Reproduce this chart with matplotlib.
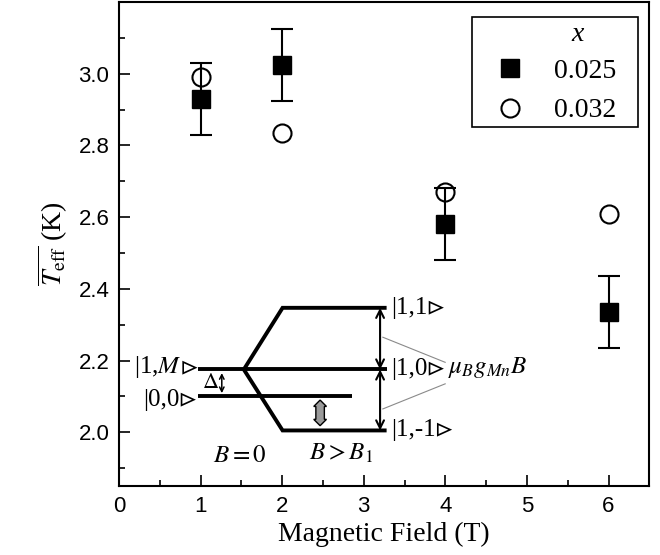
import matplotlib
matplotlib.use('Agg')
import matplotlib.pyplot as plt
from matplotlib.lines import Line2D
from matplotlib.patches import Rectangle, FancyBboxPatch
from matplotlib.transforms import Affine2D
from matplotlib.ticker import MultipleLocator

plt.rcParams['font.family'] = ['Liberation Sans', 'DejaVu Sans']
plt.rcParams['mathtext.fontset'] = 'stix'
SERIF = ['Liberation Serif', 'STIXGeneral', 'DejaVu Serif']

# ---- data ----
fields = [1, 2, 4, 6]
t_025 = [2.93, 3.025, 2.58, 2.335]
err_025 = [0.10, 0.10, 0.10, 0.10]
t_032 = [2.99, 2.835, 2.67, 2.61]
series_labels = ['0.025', '0.032']
legend_title = 'x'
xticks = [0, 1, 2, 3, 4, 5, 6]
yticks = [2.0, 2.2, 2.4, 2.6, 2.8, 3.0]
xlabel = 'Magnetic Field (T)'
ylabel = r'$\overline{T_{\mathrm{eff}}}$ (K)'
KET = '\u22b3'

# ---- inset level diagram (annotation geometry, data coords) ----
lvl_M, lvl_00, lvl_up, lvl_dn = 2.175, 2.10, 2.347, 2.005
x_left, x_split, x_knee, x_right, x_00_end = 0.97, 1.53, 2.005, 3.28, 2.86
x_arrow = 3.20

fig = plt.figure(figsize=(6.6, 5.55), dpi=100)
ax = fig.add_axes([0.1803, 0.1243, 0.8035, 0.8721])

ax.errorbar(fields, t_025, yerr=err_025, fmt='s', color='k', ms=13,
            capsize=8, elinewidth=1.5, capthick=1.5, zorder=3)
ax.plot(fields, t_032, 'o', mfc='none', mec='k', ms=13, mew=1.5, zorder=4)

ax.set_xlim(0, 6.5)
ax.set_ylim(1.85, 3.2)
ax.set_xticks(xticks)
ax.set_yticks(yticks)
ax.set_yticklabels([f'{v:.1f}' for v in yticks])
ax.xaxis.set_minor_locator(MultipleLocator(0.5))
ax.yaxis.set_minor_locator(MultipleLocator(0.1))
ax.tick_params(which='major', direction='in', length=8, width=1.2,
               labelsize=16, pad=7)
ax.tick_params(which='minor', direction='in', length=4, width=1.2)
for s in ax.spines.values():
    s.set_linewidth(1.5)

ax.set_xlabel(xlabel, fontsize=20, family=SERIF, labelpad=4)
ax.set_ylabel(ylabel, fontsize=20, family=SERIF, labelpad=6)

# legend (frameless content + separate frame box)
handles = [Line2D([], [], ls='none', marker='s', color='k', ms=13),
           Line2D([], [], ls='none', marker='o', mfc='none', mec='k', ms=13, mew=1.5)]
leg = ax.legend(handles, series_labels, loc='center left',
                bbox_to_anchor=(0.685, 0.816), borderaxespad=0, borderpad=0,
                frameon=False, prop={'family': SERIF, 'size': 20},
                handlelength=2.0, handletextpad=0.58, labelspacing=0.5)
leg.set_zorder(6)
ax.add_patch(Rectangle((0.665, 0.742), 0.313, 0.227, transform=ax.transAxes,
                       fc='white', ec='k', lw=1.2, zorder=5))
ax.text(0.864, 0.932, legend_title, transform=ax.transAxes, ha='center',
        va='center', fontsize=20, family=SERIF, style='italic', zorder=7)

# level lines
lw = 2.8
kw = dict(color='k', lw=lw, solid_capstyle='butt', solid_joinstyle='miter', zorder=2)
ax.plot([x_left, x_right], [lvl_M, lvl_M], **kw)
ax.plot([x_left, x_00_end], [lvl_00, lvl_00], **kw)
ax.plot([x_split, x_knee, x_right], [lvl_M, lvl_up, lvl_up], **kw)
ax.plot([x_split, x_knee, x_right], [lvl_M, lvl_dn, lvl_dn], **kw)

# Zeeman arrows
for y0, y1 in [(lvl_M, lvl_up), (lvl_M, lvl_dn)]:
    ax.annotate('', xy=(x_arrow, y1), xytext=(x_arrow, y0),
                arrowprops=dict(arrowstyle='<->', lw=1.5, color='k',
                                shrinkA=0, shrinkB=0, mutation_scale=14))
# Delta arrow
ax.annotate('', xy=(1.26, 2.109), xytext=(1.26, 2.165),
            arrowprops=dict(arrowstyle='<->', lw=1.1, color='k',
                            shrinkA=0, shrinkB=0, mutation_scale=8))
# gray block double arrow (drawn in pixel units, rotated vertical)
px, py = ax.transData.transform((2.465, 2.051))
W, H = 15.0, 8.5
darrow = FancyBboxPatch((-W / 2, -H / 2), W, H, boxstyle='darrow,pad=0',
                        fc='#9a9a9a', ec='k', lw=1.0, zorder=3,
                        transform=Affine2D().rotate_deg(90).translate(px, py))
ax.add_patch(darrow)

# thin gray pointer lines
ax.plot([3.234, 3.998], [2.265, 2.195], color='#8a8a8a', lw=0.8)
ax.plot([3.234, 3.998], [2.065, 2.135], color='#8a8a8a', lw=0.8)

tk = dict(family=SERIF, fontsize=18, va='center')
ax.text(3.34, 2.347, '|1,1' + KET, ha='left', **tk)
ax.text(3.34, 2.175, '|1,0' + KET, ha='left', **tk)
ax.text(3.34, 2.005, '|1,-1' + KET, ha='left', **tk)
ket_m = ax.text(0.96, 2.181, KET, ha='right', **tk)
ax.annotate(r'|1,$M$', xy=(0.05, 0.5), xycoords=ket_m, ha='right', **tk)
ax.text(0.95, 2.090, '|0,0' + KET, ha='right', **tk)
ax.text(1.12, 2.137, r'$\mathit{\Delta}$', ha='center', family=SERIF, fontsize=16, va='center')
ax.text(1.48, 1.935, r'$B = 0$', ha='center', **tk)
ax.text(2.72, 1.940, r'$B > B_1$', ha='center', **tk)
ax.text(4.03, 2.181, r'$\mu_B g_{Mn} B$', ha='left', **tk)

fig.savefig('out.png', dpi=100)
